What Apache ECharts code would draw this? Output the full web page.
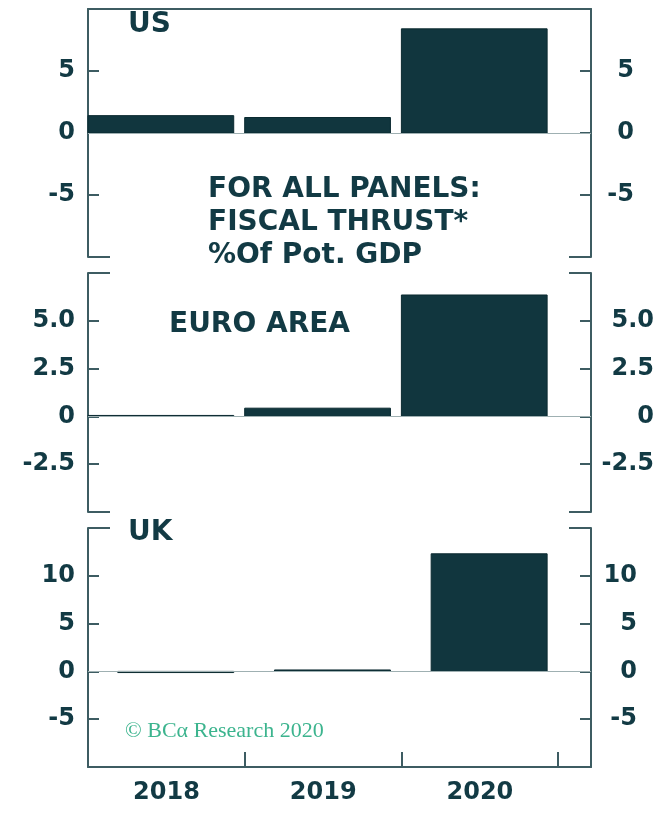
<!DOCTYPE html>
<html>
<head>
<meta charset="utf-8">
<script src="https://cdn.jsdelivr.net/npm/echarts@6/dist/echarts.min.js"></script>
<style>
  html, body { margin: 0; padding: 0; background: #fff; }
  #main { width: 667px; height: 816px; }
</style>
</head>
<body>
<div id="main"></div>
<script>
var years = [2018, 2019, 2020];
var usValues = [1.4, 1.25, 8.4];
var euroValues = [0.05, 0.43, 6.35];
var ukValues = [-0.12, 0.15, 12.3];

var usTicks = { min: -10, max: 10, interval: 5 };
var euroTicks = { min: -5, max: 7.5, interval: 2.5 };
var ukTicks = { min: -10, max: 15, interval: 5 };

var ink = "#123a44";
var axisColor = "#3d5c62";
var barColor = "#11363e";
var barBorder = "#0b2a30";

var chartDom = document.getElementById("main");
var myChart = echarts.init(chartDom);

var panels = [
  { name: "US", values: usValues, ticks: usTicks, top: 9, height: 248, rightMargin: 43, barStart: 0 },
  { name: "EURO AREA", values: euroValues, ticks: euroTicks, top: 273, height: 239, rightMargin: 63, barStart: 0 },
  { name: "UK", values: ukValues, ticks: ukTicks, top: 528, height: 239, rightMargin: 46, barStart: 0.19 }
];
var barEnd = 0.93;

function tickLabel(t) {
  return function (v) {
    if (v === t.min || v === t.max) return "";
    if (v === 0) return "0";
    return t.interval % 1 ? v.toFixed(1) : String(v);
  };
}

var grids = [], xAxes = [], yAxes = [], series = [];

panels.forEach(function (p, g) {
  var t = p.ticks;
  grids.push({ left: 88, right: 76, top: p.top, height: p.height, containLabel: false, outerBoundsMode: "none" });

  var xa = { type: "value", gridIndex: g, min: 2018, max: 2021.21, interval: 1, splitLine: { show: false } };
  if (g === 0) {
    xa.position = "top";
    xa.axisLine = { show: true, onZero: false, lineStyle: { color: axisColor, width: 2 } };
    xa.axisTick = { show: false };
    xa.axisLabel = { show: false };
  } else if (g === 1) {
    xa.show = false;
  } else {
    xa.position = "bottom";
    xa.axisLine = { show: true, onZero: false, lineStyle: { color: axisColor, width: 2 } };
    xa.axisTick = { show: true, inside: true, length: 15, lineStyle: { color: axisColor, width: 2 } };
    xa.axisLabel = {
      margin: 14,
      padding: [0, 0, 0, 157],
      color: ink,
      fontSize: 24,
      fontWeight: "bold",
      fontFamily: "DejaVu Sans",
      formatter: function (v) { return (v % 1 === 0 && v < 2021) ? String(v) : ""; }
    };
  }
  xAxes.push(xa);

  var base = { type: "value", gridIndex: g, min: t.min, max: t.max, interval: t.interval, splitLine: { show: false } };
  // main left / right axes
  yAxes.push(Object.assign({}, base, {
    position: "left",
    axisLine: { show: true, onZero: false, lineStyle: { color: axisColor, width: 2 } },
    axisTick: { show: true, inside: true, length: 11, lineStyle: { color: axisColor, width: 2 } },
    axisLabel: { margin: 13, color: ink, fontSize: 24, fontWeight: "bold", fontFamily: "DejaVu Sans", formatter: tickLabel(t) }
  }));
  yAxes.push(Object.assign({}, base, {
    position: "right",
    axisLine: { show: true, onZero: false, lineStyle: { color: axisColor, width: 2 } },
    axisTick: { show: true, inside: true, length: 11, lineStyle: { color: axisColor, width: 2 } },
    axisLabel: { margin: p.rightMargin, align: "right", color: ink, fontSize: 24, fontWeight: "bold", fontFamily: "DejaVu Sans", formatter: tickLabel(t) }
  }));
  // longer end ticks
  ["left", "right"].forEach(function (pos) {
    yAxes.push(Object.assign({}, base, {
      position: pos,
      axisLine: { show: false },
      axisTick: { show: true, inside: true, length: 22, customValues: [t.min, t.max], lineStyle: { color: axisColor, width: 2 } },
      axisLabel: { show: false }
    }));
  });

  series.push({
    type: "custom",
    name: p.name,
    xAxisIndex: g,
    yAxisIndex: g * 4,
    encode: { x: 0, y: 1 },
    data: years.map(function (y, i) { return [y, p.values[i]]; }),
    renderItem: function (params, api) {
      var yr = api.value(0), v = api.value(1);
      var a = api.coord([yr + p.barStart, v]);
      var b = api.coord([yr + barEnd, 0]);
      return {
        type: "rect",
        shape: { x: a[0], y: Math.min(a[1], b[1]), width: b[0] - a[0], height: Math.abs(b[1] - a[1]) },
        style: { fill: barColor, stroke: barBorder, lineWidth: 1 }
      };
    },
    markLine: {
      silent: true,
      symbol: "none",
      label: { show: false },
      lineStyle: { color: "#9fb0b2", width: 1, type: "solid" },
      data: [{ yAxis: 0 }]
    }
  });
});

var titleFont = { fontSize: 28, fontWeight: "bold", fontFamily: "DejaVu Sans", fill: ink };

var option = {
  animation: false,
  grid: grids,
  xAxis: xAxes,
  yAxis: yAxes,
  series: series,
  graphic: [
    { type: "text", left: 128, top: 11, style: Object.assign({ text: "US" }, titleFont) },
    { type: "text", left: 169, top: 311, style: Object.assign({ text: "EURO AREA" }, titleFont) },
    { type: "text", left: 128, top: 519, style: Object.assign({ text: "UK" }, titleFont) },
    { type: "text", left: 208, top: 173, style: Object.assign({ text: "FOR ALL PANELS:\nFISCAL THRUST*\n%Of Pot. GDP", lineHeight: 33 }, titleFont) },
    { type: "text", left: 125, top: 720, style: { text: "© BCα Research 2020", fontSize: 22, fontFamily: "Liberation Serif", fill: "#3cb48e" } }
  ]
};
option && myChart.setOption(option);
</script>
</body>
</html>
